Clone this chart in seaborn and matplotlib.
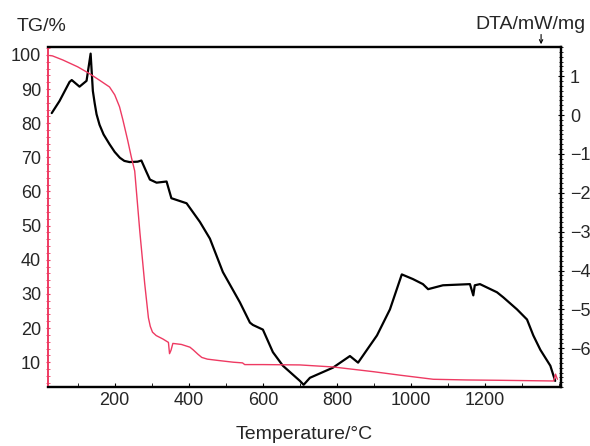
import matplotlib
matplotlib.use("Agg")
import matplotlib.pyplot as plt
import seaborn as sns
import pandas as pd
from matplotlib.ticker import MultipleLocator

# TG curve (left axis, %)
tg_temp = [25, 32, 60, 100, 132, 160, 186, 200, 213, 222, 235, 245, 254, 268, 281, 286,
           291, 296, 302, 312, 330, 345, 348, 352, 357, 380, 403, 412, 425, 435, 450, 480,
           520, 545, 551, 600, 700, 790, 900, 970, 1060, 1150, 1240, 1385, 1390, 1395]
tg_val = [99.8, 99.7, 98.5, 96.5, 94.5, 92.5, 90.6, 88.3, 84.8, 81.0, 75.0, 70.0, 66.0, 48.0,
          33.0, 28.0, 23.0, 20.5, 18.8, 17.8, 16.8, 15.8, 12.5, 13.5, 15.5, 15.2, 14.4,
          13.6, 12.3, 11.4, 10.9, 10.5, 10.0, 9.8, 9.3, 9.3, 9.2, 8.6, 7.2, 6.2, 5.0, 4.8,
          4.7, 4.5, 6.5, 5.0]

# DTA curve (right axis, mW/mg)
dta_temp = [30, 51, 78, 84, 105, 124, 135, 141, 146, 151, 159, 170, 186, 200, 214, 226,
            240, 262, 272, 285, 295, 313, 340, 353, 394, 430, 457, 492, 538, 565, 573, 600,
            627, 654, 700, 710, 727, 789, 835, 857, 881, 908, 943, 975, 1005, 1032, 1046,
            1086, 1159, 1168, 1172, 1186, 1232, 1249, 1286, 1313, 1330, 1349, 1376, 1389]
dta_val = [0.05, 0.36, 0.85, 0.90, 0.73, 0.88, 1.58, 0.62, 0.30, 0.02, -0.25, -0.50, -0.75,
           -0.95, -1.10, -1.18, -1.21, -1.20, -1.17, -1.45, -1.66, -1.74, -1.71, -2.14,
           -2.27, -2.75, -3.18, -4.04, -4.82, -5.34, -5.40, -5.52, -6.10, -6.45, -6.84,
           -6.94, -6.76, -6.50, -6.20, -6.37, -6.04, -5.67, -5.00, -4.10, -4.22, -4.35,
           -4.48, -4.38, -4.35, -4.64, -4.38, -4.35, -4.56, -4.69, -5.00, -5.26, -5.67,
           -6.04, -6.45, -6.84]

x_ticks = [200, 400, 600, 800, 1000, 1200]
tg_ticks = [10, 20, 30, 40, 50, 60, 70, 80, 90, 100]
dta_ticks = [-6, -5, -4, -3, -2, -1, 0, 1]

sns.set_style("white")
plt.rcParams['font.family'] = ['Liberation Sans', 'DejaVu Sans']

red = '#ee3a62'
tg_df = pd.DataFrame({'T': tg_temp, 'TG': tg_val})
dta_df = pd.DataFrame({'T': dta_temp, 'DTA': dta_val})

fig = plt.figure(figsize=(5.9, 4.46), dpi=100)
ax = fig.add_axes([0.0814, 0.132, 0.8696, 0.7626])
ax2 = ax.twinx()

sns.lineplot(data=tg_df, x='T', y='TG', ax=ax, color=red, linewidth=1.0, sort=False)
sns.lineplot(data=dta_df, x='T', y='DTA', ax=ax2, color='black', linewidth=1.6, sort=False)
ax2.set_zorder(ax.get_zorder() - 1)
ax.patch.set_visible(False)

ax.set_xlim(20, 1405)
ax.set_ylim(2.7, 102.3)
ax2.set_ylim(-7.0, 1.75)

ax.set_xticks(x_ticks)
ax.set_yticks(tg_ticks)
ax2.set_yticks(dta_ticks)
ax2.set_yticklabels(['\u2212' + str(-t) if t < 0 else str(t) for t in dta_ticks])
ax.xaxis.set_minor_locator(MultipleLocator(100))
ax.yaxis.set_minor_locator(MultipleLocator(2))
ax2.yaxis.set_minor_locator(MultipleLocator(0.125))

ax.tick_params(axis='x', which='both', direction='in', bottom=True, length=3,
               labelsize=13, color='black')
ax.tick_params(axis='y', which='both', direction='inout', left=True, length=3,
               labelsize=13, color=red)
ax2.tick_params(axis='y', which='both', direction='inout', right=True, length=3,
                labelsize=13, color='black', pad=4)
ax2.tick_params(axis='y', which='major', length=5)

for sp in ['top', 'bottom', 'right']:
    ax.spines[sp].set_color('black')
    ax.spines[sp].set_linewidth(1.6)
    ax2.spines[sp].set_linewidth(1.6)
ax.spines['left'].set_color(red)
ax.spines['left'].set_linewidth(1.4)
ax2.spines['left'].set_visible(False)

ax.set_xlabel('Temperature/\u00b0C', fontsize=14, labelpad=12)
ax.set_ylabel('')
ax2.set_ylabel('')

fig.text(0.029, 0.94, 'TG/%', fontsize=14, ha='left', va='center')
fig.text(0.993, 0.944, 'DTA/mW/mg', fontsize=14, ha='right', va='center')
ax.annotate('', xy=(0.961, 1.0), xytext=(0.961, 1.045), xycoords='axes fraction',
            arrowprops=dict(arrowstyle='->', color='black', lw=0.8, mutation_scale=6))

fig.savefig('out.png', dpi=100)
